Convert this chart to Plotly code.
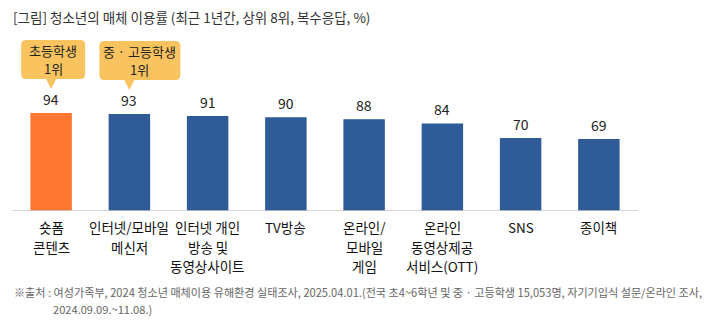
import plotly.graph_objects as go

# 청소년의 매체 이용률 (최근 1년간, 상위 8위, 복수응답, %)
categories = [
    "숏폼\n콘텐츠",
    "인터넷/모바일\n메신저",
    "인터넷 개인\n방송 및\n동영상사이트",
    "TV방송",
    "온라인/\n모바일\n게임",
    "온라인\n동영상제공\n서비스(OTT)",
    "SNS",
    "종이책",
]
values = [94, 93, 91, 90, 88, 84, 70, 69]
highlight = [True, False, False, False, False, False, False, False]

# callouts: (category index, text lines)
callouts = [(0, ["초등학생", "1위"]), (1, ["중 · 고등학생", "1위"])]

title = "[그림] 청소년의 매체 이용률 (최근 1년간, 상위 8위, 복수응답, %)"
footnote_lines = [
    "※출처 : 여성가족부, 2024 청소년 매체이용 유해환경 실태조사, 2025.04.01.(전국 초4~6학년 및 중 · 고등학생 15,053명, 자기기입식 설문/온라인 조사,",
    "2024.09.09.~11.08.)",
]

W, H = 717, 325
ML, MR, MT, MB = 12, 79, 40, 114
PW, PH = W - ML - MR, H - MT - MB
YMAX = 164.0

FONT = "Noto Sans CJK KR"
ORANGE = "#FF7730"
BLUE = "#2F5B98"
CALLOUT = "#F9C460"

n = len(categories)
xs = list(range(n))

def py_to_paper(py):
    return (H - MB - py) / PH

def px_to_paper(px):
    return (px - ML) / PW

fig = go.Figure()
fig.add_trace(go.Bar(
    x=xs, y=values,
    marker=dict(color=[ORANGE if h else BLUE for h in highlight], line=dict(width=0)),
    width=0.53,
    hoverinfo="skip",
))

annotations = []
# value labels above bars
for i, v in zip(xs, values):
    annotations.append(dict(
        x=i, y=v, xref="x", yref="y", text=str(v), showarrow=False,
        yanchor="middle", yshift=14,
        font=dict(family=FONT, size=14, color="#222222"),
    ))

# category labels, one annotation per line
for i, lab in zip(xs, categories):
    for k, line in enumerate(lab.split("\n")):
        annotations.append(dict(
            x=i, y=py_to_paper(227 + 19.7 * k), xref="x", yref="paper",
            text=line, showarrow=False, yanchor="middle",
            font=dict(family=FONT, size=13.5, color="#111111"),
        ))

# callout boxes with a downward pointer above the bar labels
shapes = []
unit = PW / n  # pixels per category
ypx = PH / YMAX  # pixels per value unit
for idx, lines in callouts:
    v = values[idx]
    tip_y = v + 24 / ypx           # pointer tip sits above the value label
    base_y = tip_y + 10 / ypx
    top_y = base_y + 39 / ypx
    if idx == 0:
        left, right = idx - 30 / unit, idx + 34 / unit
    else:
        left, right = idx - 30 / unit, idx + 51 / unit
    r_x, r_y = 5 / unit, 5 / ypx
    hw = 5 / unit
    path = (
        f"M {left + r_x},{top_y} L {right - r_x},{top_y} "
        f"Q {right},{top_y} {right},{top_y - r_y} "
        f"L {right},{base_y + r_y} Q {right},{base_y} {right - r_x},{base_y} "
        f"L {idx + hw},{base_y} L {idx},{tip_y} L {idx - hw},{base_y} "
        f"L {left + r_x},{base_y} Q {left},{base_y} {left},{base_y + r_y} "
        f"L {left},{top_y - r_y} Q {left},{top_y} {left + r_x},{top_y} Z"
    )
    shapes.append(dict(type="path", path=path, xref="x", yref="y",
                       fillcolor=CALLOUT, line=dict(width=0), layer="above"))
    mid = (base_y + top_y) / 2
    for k, line in enumerate(lines):
        annotations.append(dict(
            x=(left + right) / 2, y=mid, xref="x", yref="y",
            text=line, showarrow=False, yanchor="middle", borderpad=0,
            yshift=8.75 - 17.5 * k,
            font=dict(family=FONT, size=13, color="#222222"),
        ))

# baseline
shapes.append(dict(type="line", xref="paper", yref="y", x0=0, x1=1, y0=0, y1=0,
                   line=dict(color="#C8C8C8", width=1.5), layer="above"))

# title and footnote
annotations.append(dict(
    x=px_to_paper(11), y=py_to_paper(17), xref="paper", yref="paper",
    text=title, showarrow=False, xanchor="left", yanchor="middle",
    font=dict(family=FONT, size=13.5, color="#333333"),
))
for k, (line, x0) in enumerate(zip(footnote_lines, [12, 51])):
    annotations.append(dict(
        x=px_to_paper(x0), y=py_to_paper(292 + 17 * k), xref="paper", yref="paper",
        text=line, showarrow=False, xanchor="left", yanchor="middle", align="left",
        font=dict(family=FONT, size=11.1, color="#666666"),
    ))

fig.update_layout(
    width=W, height=H,
    margin=dict(l=ML, r=MR, t=MT, b=MB),
    paper_bgcolor="white", plot_bgcolor="white",
    showlegend=False,
    xaxis=dict(range=[-0.5, n - 0.5], showticklabels=False, showgrid=False,
               zeroline=False, showline=False, fixedrange=True),
    yaxis=dict(range=[0, YMAX], visible=False, fixedrange=True),
    shapes=shapes,
    annotations=annotations,
)

fig.write_html("out.html", include_plotlyjs=True, config={"displayModeBar": False})
